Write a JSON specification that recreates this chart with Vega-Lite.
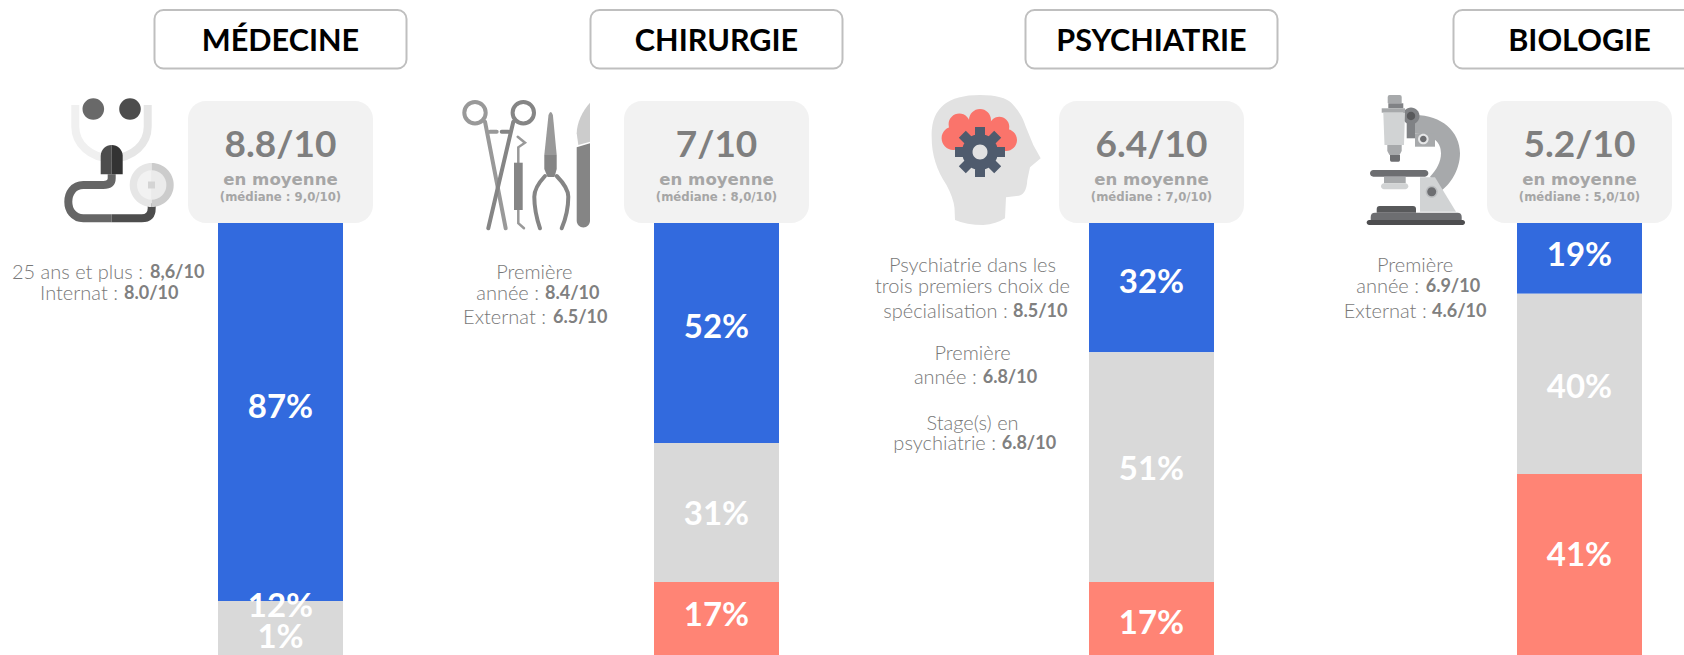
{"$schema":"https://vega.github.io/schema/vega-lite/v6.json","width":1684,"height":655,"autosize":{"type":"fit","contains":"padding"},"padding":0,"background":"white",
"config":{"view":{"stroke":null},"axis":{"disable":true},"style":{
"titre":{"font":"Lato","fontSize":30.6,"fontWeight":700,"color":"#000000","align":"center","baseline":"middle","dy":2},
"score":{"font":"Lato","fontSize":37,"fontWeight":700,"color":"#7f7f7f","align":"center","baseline":"middle","dy":2},
"moy":{"font":"DejaVu Sans","fontSize":16.6,"fontWeight":700,"color":"#a6a6a6","align":"center","baseline":"middle","dy":1},
"med":{"font":"DejaVu Sans","fontSize":11.7,"fontWeight":700,"color":"#a6a6a6","align":"center","baseline":"middle","dy":1},
"pct":{"font":"Lato","fontSize":33,"fontWeight":700,"color":"#ffffff","align":"center","baseline":"middle","dy":2},
"noteC":{"font":"Lato","fontSize":20,"fontWeight":300,"color":"#787878","align":"center","baseline":"middle","dy":1},
"noteR":{"font":"Lato","fontSize":20,"fontWeight":300,"color":"#787878","align":"right","baseline":"middle","dy":1},
"noteB":{"font":"Lato","fontSize":18,"fontWeight":700,"color":"#808080","align":"left","baseline":"middle","dy":1}
}},
"datasets":{
"disciplines":[{"rang":1,"discipline":"MÉDECINE","moyenne":"8.8/10","mention":"en moyenne","mediane":"(médiane : 9,0/10)"},{"rang":2,"discipline":"CHIRURGIE","moyenne":"7/10","mention":"en moyenne","mediane":"(médiane : 8,0/10)"},{"rang":3,"discipline":"PSYCHIATRIE","moyenne":"6.4/10","mention":"en moyenne","mediane":"(médiane : 7,0/10)"},{"rang":4,"discipline":"BIOLOGIE","moyenne":"5.2/10","mention":"en moyenne","mediane":"(médiane : 5,0/10)"}],
"parts":[{"rang":1,"categorie":"Favorable","ordre":1,"part":87.5},{"rang":1,"categorie":"Neutre","ordre":2,"part":12.5},{"rang":1,"categorie":"Défavorable","ordre":3,"part":1},
{"rang":2,"categorie":"Favorable","ordre":1,"part":50.9},{"rang":2,"categorie":"Neutre","ordre":2,"part":32.2},{"rang":2,"categorie":"Défavorable","ordre":3,"part":16.9},
{"rang":3,"categorie":"Favorable","ordre":1,"part":29.9},{"rang":3,"categorie":"Neutre","ordre":2,"part":53.2},{"rang":3,"categorie":"Défavorable","ordre":3,"part":16.9},
{"rang":4,"categorie":"Favorable","ordre":1,"part":16.4},{"rang":4,"categorie":"Neutre","ordre":2,"part":41.7},{"rang":4,"categorie":"Défavorable","ordre":3,"part":41.9}]
},
"encoding":{"x":{"field":"rang","type":"quantitative","scale":{"domain":[1,2,3,4],"range":[280.5,716.5,1151.5,1579.5],"nice":false,"padding":0},"axis":null}},
"layer":[
{"data":{"name":"parts"},"mark":{"type":"bar","width":125,"orient":"vertical","clip":true},"encoding":{"y":{"field":"part","type":"quantitative","stack":"zero","scale":{"domain":[100,-51.62],"nice":false},"axis":null},"fill":{"field":"categorie","type":"nominal","scale":{"domain":["Favorable","Neutre","Défavorable"],"range":["#326ade","#d9d9d9","#ff8475"]},"legend":null},"order":{"field":"ordre"}}},
{"data":{"values":[{"rang":1,"piece":"casque_g"},{"rang":1,"piece":"casque_d"},{"rang":1,"piece":"tube_g"},{"rang":1,"piece":"tube_d"}]},"mark":{"type":"point","filled":false,"size":4,"opacity":1,"strokeWidth":8,"strokeCap":"butt"},"encoding":{"y":{"datum":0},
"shape":{"field":"piece","type":"nominal","legend":null,"scale":{
"domain":["casque_g","casque_d","tube_g","tube_d","pince1","pince2","pinces_b","fils","sondage","ecouteur_g","ecouteur_d","y_g","y_d","pav_g","pav_d","int_g","int_d","centre","manche","lame","sonde","pl_h","pl_b","tete","cerveau","roue","moyeu","bras","bloc","colonne","molette","molette_i","vis","vis_i","oculaire","collier","barre","corps","col","pointe","platine","sous","cond","pied","rot_h","rot","socle_h","socle","semelle"],
"range":["M-205.2,-118L-205.2,-96.3C-205.2,-79.7 -190.5,-64.7 -168.8,-64.7","M-132.8,-118L-132.8,-96.3C-132.8,-79.7 -147.2,-64.7 -168.8,-64.7","M-168.8,-48.7L-168.8,-44.7Q-168.8,-38 -177.2,-38L-197.2,-38C-207.2,-38 -212.2,-29.7 -212.2,-21.3C-212.2,-13 -207.2,-4.7 -197.2,-4.7L-168.8,-4.7","M-168.8,-4.7L-138.8,-4.7Q-128.8,-4.7 -128.8,-14.7L-128.8,-19.7","M-252.2,-110.3a10.7,10.7 0 1,0 21.4,0a10.7,10.7 0 1,0 -21.4,0M-231.5,-101.3L-210.8,5.3M-226.5,-91.3L-219.8,-91.3","M-203.9,-110.3a10.7,10.7 0 1,0 21.4,0a10.7,10.7 0 1,0 -21.4,0M-203.2,-101.3L-228.2,5.3M-214.8,-91.3L-208.2,-91.3","M-171.5,-47C-178,-40 -182.2,-33 -182.2,-26.3C-182.2,-15 -180,-5 -176.5,5.3M-159.8,-47C-153,-40 -148.2,-33 -148.2,-26.3C-148.2,-15 -150.5,-5 -154.8,5.3","M-198.2,-60.3L-198.2,-75.7L-191.5,-80.3L-198.8,-86.3M-198.2,-13L-198.2,0.3L-192.5,5.3","M0,0","M-198,-114a10.8,10.8 0 1,0 21.6,0a10.8,10.8 0 1,0 -21.6,0Z","M-161.3,-114a10.8,10.8 0 1,0 21.6,0a10.8,10.8 0 1,0 -21.6,0Z","M-179.8,-48.7L-179.8,-67.3A11,11 0 0,1 -168.8,-78L-168.8,-48.7Z","M-157.8,-48.7L-157.8,-67.3A11,11 0 0,0 -168.8,-78L-168.8,-48.7Z","M-128.8,-60A22,22 0 0,0 -128.8,-16Z","M-128.8,-60A22,22 0 0,1 -128.8,-16Z","M-128.8,-52.7A14.7,14.7 0 0,0 -128.8,-23.3Z","M-128.8,-52.7A14.7,14.7 0 0,1 -128.8,-23.3Z","M-132.5,-41.5h7v7h-7Z","M-139.8,-75.7L-126.5,-79.7L-126.5,-2.2A6.65,6.65 0 0,1 -139.8,-2.2Z","M-126.5,-120.3C-134,-112 -139.8,-100 -139.8,-89.7L-138.2,-78L-126.5,-81.3Z","M-202.5,-60.3H-193.8V-13H-202.5Z","M-168,-108Q-165.8,-114 -163.6,-108L-159.8,-68H-172.2Z","M-172.2,-68H-159.8L-159.8,-54L-162,-46H-169L-172.2,-54Z","M-171.5,-128C-155,-128 -145,-125 -140,-120C-132,-112 -128,-103 -126,-97L-118.2,-78L-110.8,-64.7L-121.5,-55.7L-124.2,-43Q-125,-27 -135,-27L-145.5,-25.7L-146.5,-4.7Q-155,1 -168.2,2Q-185,2 -196.5,-3L-197,-15Q-198,-25 -205,-38Q-219.8,-60 -219.8,-85Q-222,-128 -171.5,-128Z","M-202.9,-98.7a10.7,10.7 0 1,1 21.4,0a10.7,10.7 0 1,1 -21.4,0ZM-182.5,-103a11,11 0 1,1 22,0a11,11 0 1,1 -22,0ZM-162.2,-96.3a10,10 0 1,1 20,0a10,10 0 1,1 -20,0ZM-156.5,-83a11,11 0 1,1 22,0a11,11 0 1,1 -22,0ZM-209.9,-84.7a11.7,11.7 0 1,1 23.4,0a11.7,11.7 0 1,1 -23.4,0ZM-197,-86.3a25.5,16 0 1,1 51,0a25.5,16 0 1,1 -51,0Z","M-189.5,-71a18,18 0 1,1 36,0a18,18 0 1,1 -36,0ZM-176.5,-96H-166.5V-46H-176.5ZM-196.5,-76H-146.5V-66H-196.5ZM-157.3,-49.8L-192.7,-85.2L-185.7,-92.2L-150.3,-56.8ZM-185.7,-49.8L-192.7,-56.8L-157.3,-92.2L-150.3,-85.2Z","M-179,-71a7.5,7.5 0 1,1 15,0a7.5,7.5 0 1,1 -15,0Z","M-164.5,-108C-137.8,-108 -119.5,-91.3 -119.5,-69.7C-119.5,-53 -129.5,-38 -139.5,-31.3L-149.5,-46.3C-142.8,-53 -138.5,-61.3 -138.5,-69.7C-138.5,-79.7 -144.5,-88 -164.5,-89.7Z","M-164.5,-89.7H-144.5V-76.3H-164.5Z","M-172.8,-104.7H-164.5V-84.7H-172.8Z","M-177,-107a8.5,8.5 0 1,1 17,0a8.5,8.5 0 1,1 -17,0Z","M-172.7,-107a4.2,4.2 0 1,1 8.4,0a4.2,4.2 0 1,1 -8.4,0Z","M-161.5,-84a5.3,5.3 0 1,1 10.6,0a5.3,5.3 0 1,1 -10.6,0Z","M-159.5,-84a3.3,3.3 0 1,1 6.6,0a3.3,3.3 0 1,1 -6.6,0Z","M-191.8,-126Q-191.8,-128 -189.8,-128H-179.8Q-177.8,-128 -177.8,-126V-119.7H-191.8Z","M-191.2,-119.7H-176.2V-114.7H-191.2Z","M-197.8,-114.7H-174.5V-110.3H-197.8Z","M-196.2,-110.3H-174.5L-175.5,-78H-195Z","M-192.2,-78H-177.8V-72L-180,-68H-190L-192.2,-72Z","M-189.5,-68H-179.5V-63Q-179.5,-61.3 -181,-61.3H-188Q-189.5,-61.3 -189.5,-63Z","M-209.5,-49.7A3.35,3.35 0 0,1 -206.2,-53H-154.5A3.35,3.35 0 0,1 -154.5,-46.3H-206.2A3.35,3.35 0 0,1 -209.5,-49.7Z","M-195.5,-46.3H-173.8V-39.7H-195.5Z","M-198.5,-36.7A3,3 0 0,1 -195.5,-39.7H-174.2A3,3 0 0,1 -174.2,-33.7H-195.5A3,3 0 0,1 -198.5,-36.7Z","M-159.5,-45.7H-144.5L-123.5,-11.3H-159.5Z","M-153.8,-31.3a6,6 0 1,1 12,0a6,6 0 1,1 -12,0Z","M-152.3,-31.3a4.5,4.5 0 1,1 9,0a4.5,4.5 0 1,1 -9,0Z","M-202.8,-14Q-202.8,-17 -199.8,-17H-166.5Q-163.5,-17 -163.5,-14V-10.3H-202.8Z","M-208.8,-6Q-208.8,-10.3 -204.5,-10.3H-122Q-117.8,-10.3 -117.8,-6V-3H-208.8Z","M-210.3,-3H-117A2.5,2.5 0 0,1 -117,2H-210.3A2.5,2.5 0 0,1 -210.3,-3Z"]}},
"color":{"field":"piece","type":"nominal","legend":null,"scale":{
"domain":["casque_g","casque_d","tube_g","tube_d","pince1","pince2","pinces_b","fils","sondage","ecouteur_g","ecouteur_d","y_g","y_d","pav_g","pav_d","int_g","int_d","centre","manche","lame","sonde","pl_h","pl_b","tete","cerveau","roue","moyeu","bras","bloc","colonne","molette","molette_i","vis","vis_i","oculaire","collier","barre","corps","col","pointe","platine","sous","cond","pied","rot_h","rot","socle_h","socle","semelle"],
"range":["#f0f0f0","#e6e6e6","#666666","#4d4d4d","#999999","#858585","#858585","#999999","#ffffff","#696969","#4d4d4d","#4d4d4d","#333333","#e6e6e6","#cccccc","#f2f2f2","#ebebeb","#d4d4d4","#858585","#cccccc","#858585","#999999","#858585","#e2e2e2","#fa746b","#4f5b6d","#e2e2e2","#a7a9ab","#a7a9ab","#808285","#808285","#58595b","#e6e7e8","#6d6e71","#a7a9ab","#808285","#a7a9ab","#d1d3d4","#a7a9ab","#6d6e71","#6d6e71","#a7a9ab","#d1d3d4","#d1d3d4","#bcbec0","#6d6e71","#58595b","#6d6e71","#4d4d4f"]}}}},
{"data":{"values":[{"rang":2,"piece":"pince1"},{"rang":2,"piece":"pince2"},{"rang":2,"piece":"pinces_b"}]},"mark":{"type":"point","filled":false,"size":4,"opacity":1,"strokeWidth":4,"strokeCap":"round"},"encoding":{"y":{"datum":0},"shape":{"field":"piece","type":"nominal","legend":null},"color":{"field":"piece","type":"nominal","legend":null}}},
{"data":{"values":[{"rang":2,"piece":"fils"}]},"mark":{"type":"point","filled":false,"size":4,"opacity":1,"strokeWidth":2.5,"strokeCap":"round"},"encoding":{"y":{"datum":0},"shape":{"field":"piece","type":"nominal","legend":null},"color":{"field":"piece","type":"nominal","legend":null}}},
{"data":{"values":[{"rang":1,"piece":"ecouteur_g"},{"rang":1,"piece":"ecouteur_d"},{"rang":1,"piece":"y_g"},{"rang":1,"piece":"y_d"},{"rang":1,"piece":"pav_g"},{"rang":1,"piece":"pav_d"},{"rang":1,"piece":"int_g"},{"rang":1,"piece":"int_d"},{"rang":1,"piece":"centre"},{"rang":2,"piece":"manche"},{"rang":2,"piece":"lame"},{"rang":2,"piece":"sonde"},{"rang":2,"piece":"pl_h"},{"rang":2,"piece":"pl_b"},{"rang":3,"piece":"tete"},{"rang":3,"piece":"cerveau"},{"rang":3,"piece":"roue"},{"rang":3,"piece":"moyeu"},{"rang":4,"piece":"bras"},{"rang":4,"piece":"bloc"},{"rang":4,"piece":"colonne"},{"rang":4,"piece":"molette"},{"rang":4,"piece":"molette_i"},{"rang":4,"piece":"vis"},{"rang":4,"piece":"vis_i"},{"rang":4,"piece":"oculaire"},{"rang":4,"piece":"collier"},{"rang":4,"piece":"barre"},{"rang":4,"piece":"corps"},{"rang":4,"piece":"col"},{"rang":4,"piece":"pointe"},{"rang":4,"piece":"pied"},{"rang":4,"piece":"platine"},{"rang":4,"piece":"sous"},{"rang":4,"piece":"cond"},{"rang":4,"piece":"rot_h"},{"rang":4,"piece":"rot"},{"rang":4,"piece":"socle_h"},{"rang":4,"piece":"socle"},{"rang":4,"piece":"semelle"}]},"mark":{"type":"point","filled":true,"size":4,"opacity":1},"encoding":{"y":{"datum":0},"shape":{"field":"piece","type":"nominal","legend":null},"color":{"field":"piece","type":"nominal","legend":null}}},
{"data":{"name":"disciplines"},"mark":{"type":"bar","width":252,"orient":"vertical","fill":"#ffffff","stroke":"#bfbfbf","strokeWidth":2,"cornerRadius":9,"clip":true},"encoding":{"y":{"datum":-49.3},"y2":{"datum":-35.76}}},
{"data":{"name":"disciplines"},"mark":{"type":"text","style":"titre"},"encoding":{"y":{"datum":-42.36},"text":{"field":"discipline"}}},
{"data":{"name":"disciplines"},"mark":{"type":"bar","width":185,"orient":"vertical","fill":"#f2f2f2","cornerRadius":18},"encoding":{"y":{"datum":-28.24},"y2":{"datum":0}}},
{"data":{"name":"disciplines"},"mark":{"type":"text","style":"score"},"encoding":{"y":{"datum":-18.3},"text":{"field":"moyenne"}}},
{"data":{"name":"disciplines"},"mark":{"type":"text","style":"moy"},"encoding":{"y":{"datum":-10.2},"text":{"field":"mention"}}},
{"data":{"name":"disciplines"},"mark":{"type":"text","style":"med"},"encoding":{"y":{"datum":-6.25},"text":{"field":"mediane"}}},
{"data":{"values":[{"rang":1,"libelle":"87%"}]},"mark":{"type":"text","style":"pct"},"encoding":{"y":{"datum":42.36},"text":{"field":"libelle"}}},
{"data":{"values":[{"rang":1,"libelle":"12%"}]},"mark":{"type":"text","style":"pct"},"encoding":{"y":{"datum":88.43},"text":{"field":"libelle"}}},
{"data":{"values":[{"rang":1,"libelle":"1%"}]},"mark":{"type":"text","style":"pct"},"encoding":{"y":{"datum":95.6},"text":{"field":"libelle"}}},
{"data":{"values":[{"rang":2,"libelle":"52%"}]},"mark":{"type":"text","style":"pct"},"encoding":{"y":{"datum":23.84},"text":{"field":"libelle"}}},
{"data":{"values":[{"rang":2,"libelle":"31%"}]},"mark":{"type":"text","style":"pct"},"encoding":{"y":{"datum":67.13},"text":{"field":"libelle"}}},
{"data":{"values":[{"rang":2,"libelle":"17%"}]},"mark":{"type":"text","style":"pct"},"encoding":{"y":{"datum":90.51},"text":{"field":"libelle"}}},
{"data":{"values":[{"rang":3,"libelle":"32%"}]},"mark":{"type":"text","style":"pct"},"encoding":{"y":{"datum":13.43},"text":{"field":"libelle"}}},
{"data":{"values":[{"rang":3,"libelle":"51%"}]},"mark":{"type":"text","style":"pct"},"encoding":{"y":{"datum":56.71},"text":{"field":"libelle"}}},
{"data":{"values":[{"rang":3,"libelle":"17%"}]},"mark":{"type":"text","style":"pct"},"encoding":{"y":{"datum":92.36},"text":{"field":"libelle"}}},
{"data":{"values":[{"rang":4,"libelle":"19%"}]},"mark":{"type":"text","style":"pct"},"encoding":{"y":{"datum":7.18},"text":{"field":"libelle"}}},
{"data":{"values":[{"rang":4,"libelle":"40%"}]},"mark":{"type":"text","style":"pct"},"encoding":{"y":{"datum":37.73},"text":{"field":"libelle"}}},
{"data":{"values":[{"rang":4,"libelle":"41%"}]},"mark":{"type":"text","style":"pct"},"encoding":{"y":{"datum":76.62},"text":{"field":"libelle"}}},
{"data":{"values":[{"rang":1,"texte":"25 ans et plus :"}]},"mark":{"type":"text","style":"noteR","dx":-137.5},"encoding":{"y":{"datum":11.27},"text":{"field":"texte"}}},
{"data":{"values":[{"rang":1,"texte":"8,6/10"}]},"mark":{"type":"text","style":"noteB","dx":-130.5},"encoding":{"y":{"datum":11.27},"text":{"field":"texte"}}},
{"data":{"values":[{"rang":1,"texte":"Internat :"}]},"mark":{"type":"text","style":"noteR","dx":-162.5},"encoding":{"y":{"datum":16.13},"text":{"field":"texte"}}},
{"data":{"values":[{"rang":1,"texte":"8.0/10"}]},"mark":{"type":"text","style":"noteB","dx":-156.5},"encoding":{"y":{"datum":16.13},"text":{"field":"texte"}}},
{"data":{"values":[{"rang":2,"texte":"Première"}]},"mark":{"type":"text","style":"noteC","dx":-182.2},"encoding":{"y":{"datum":11.27},"text":{"field":"texte"}}},
{"data":{"values":[{"rang":2,"texte":"année :"}]},"mark":{"type":"text","style":"noteR","dx":-177.5},"encoding":{"y":{"datum":16.13},"text":{"field":"texte"}}},
{"data":{"values":[{"rang":2,"texte":"8.4/10"}]},"mark":{"type":"text","style":"noteB","dx":-171.5},"encoding":{"y":{"datum":16.13},"text":{"field":"texte"}}},
{"data":{"values":[{"rang":2,"texte":"Externat :"}]},"mark":{"type":"text","style":"noteR","dx":-170.5},"encoding":{"y":{"datum":21.69},"text":{"field":"texte"}}},
{"data":{"values":[{"rang":2,"texte":"6.5/10"}]},"mark":{"type":"text","style":"noteB","dx":-163.5},"encoding":{"y":{"datum":21.69},"text":{"field":"texte"}}},
{"data":{"values":[{"rang":3,"texte":"Psychiatrie dans les"}]},"mark":{"type":"text","style":"noteC","dx":-179},"encoding":{"y":{"datum":9.72},"text":{"field":"texte"}}},
{"data":{"values":[{"rang":3,"texte":"trois premiers choix de"}]},"mark":{"type":"text","style":"noteC","dx":-179},"encoding":{"y":{"datum":14.58},"text":{"field":"texte"}}},
{"data":{"values":[{"rang":3,"texte":"spécialisation :"}]},"mark":{"type":"text","style":"noteR","dx":-143.8},"encoding":{"y":{"datum":20.3},"text":{"field":"texte"}}},
{"data":{"values":[{"rang":3,"texte":"8.5/10"}]},"mark":{"type":"text","style":"noteB","dx":-138.5},"encoding":{"y":{"datum":20.3},"text":{"field":"texte"}}},
{"data":{"values":[{"rang":3,"texte":"Première"}]},"mark":{"type":"text","style":"noteC","dx":-179},"encoding":{"y":{"datum":30.16},"text":{"field":"texte"}}},
{"data":{"values":[{"rang":3,"texte":"année :"}]},"mark":{"type":"text","style":"noteR","dx":-174.8},"encoding":{"y":{"datum":35.58},"text":{"field":"texte"}}},
{"data":{"values":[{"rang":3,"texte":"6.8/10"}]},"mark":{"type":"text","style":"noteB","dx":-168.8},"encoding":{"y":{"datum":35.58},"text":{"field":"texte"}}},
{"data":{"values":[{"rang":3,"texte":"Stage(s) en"}]},"mark":{"type":"text","style":"noteC","dx":-179},"encoding":{"y":{"datum":46.23},"text":{"field":"texte"}}},
{"data":{"values":[{"rang":3,"texte":"psychiatrie :"}]},"mark":{"type":"text","style":"noteR","dx":-155.5},"encoding":{"y":{"datum":51},"text":{"field":"texte"}}},
{"data":{"values":[{"rang":3,"texte":"6.8/10"}]},"mark":{"type":"text","style":"noteB","dx":-149.8},"encoding":{"y":{"datum":51},"text":{"field":"texte"}}},
{"data":{"values":[{"rang":4,"texte":"Première"}]},"mark":{"type":"text","style":"noteC","dx":-164.5},"encoding":{"y":{"datum":9.72},"text":{"field":"texte"}}},
{"data":{"values":[{"rang":4,"texte":"année :"}]},"mark":{"type":"text","style":"noteR","dx":-160.5},"encoding":{"y":{"datum":14.58},"text":{"field":"texte"}}},
{"data":{"values":[{"rang":4,"texte":"6.9/10"}]},"mark":{"type":"text","style":"noteB","dx":-153.8},"encoding":{"y":{"datum":14.58},"text":{"field":"texte"}}},
{"data":{"values":[{"rang":4,"texte":"Externat :"}]},"mark":{"type":"text","style":"noteR","dx":-152.8},"encoding":{"y":{"datum":20.3},"text":{"field":"texte"}}},
{"data":{"values":[{"rang":4,"texte":"4.6/10"}]},"mark":{"type":"text","style":"noteB","dx":-147.5},"encoding":{"y":{"datum":20.3},"text":{"field":"texte"}}}
]}
